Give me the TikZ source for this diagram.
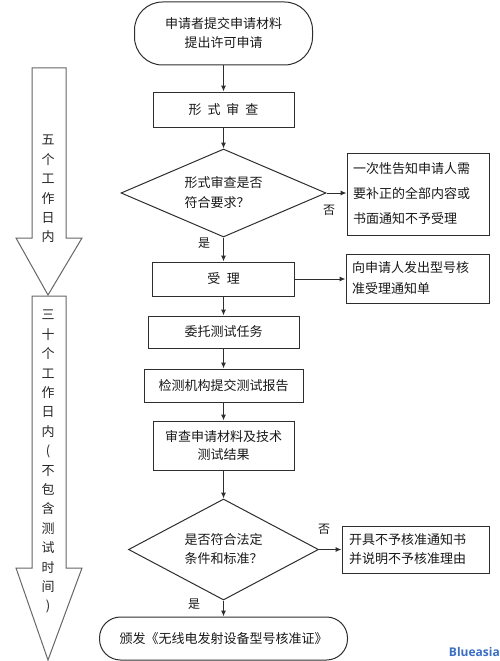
\documentclass[tikz,border=0pt]{standalone}
\usepackage{fontspec}
\setmainfont{Noto Sans CJK SC}
\newfontfamily\wmfont{Open Sans}
\usetikzlibrary{shapes.geometric,arrows.meta}
\definecolor{ln}{HTML}{2E2E2E}
\definecolor{wm}{HTML}{3A6FC4}
\tikzset{
  base/.style={draw=ln, line width=1pt, inner sep=0pt, font=\fontsize{13}{19}\selectfont, text=black!90},
  procbox/.style={base, rectangle, align=center},
  termbox/.style={base, rectangle, align=center},
  decision/.style={base, diamond, align=left, aspect=2.3},
  notebox/.style={base, rectangle, align=left, inner xsep=6pt},
  conn/.style={draw=ln, line width=1pt, -{Latex[length=6pt,width=5pt]}},
  lbl/.style={font=\fontsize{12}{14}\selectfont, text=black!90, inner sep=0pt},
  bigarrow/.style={draw=black!60, line width=1pt, fill=white},
  vtext/.style={align=center, inner sep=0pt, font=\fontsize{13}{19.4}\selectfont, text=black!85}
}
\begin{document}
\begin{tikzpicture}[x=1pt,y=-1pt]
\useasboundingbox (0,0) rectangle (500,661);
\fill[white] (0,0) rectangle (500,661);

% left big arrows
\draw[bigarrow] (32,68) -- (66,68) -- (66,238) -- (82,238) -- (48,295) -- (16,238) -- (32,238) -- cycle;
\draw[bigarrow] (32,296) -- (66,296) -- (66,568) -- (82,568) -- (48,660) -- (16,568) -- (32,568) -- cycle;
\node[vtext, anchor=north] (v1) at (48,135) {五\\个\\工\\作\\日\\内};
\node[vtext, anchor=north] (v2) at (48,310) {三\\十\\个\\工\\作\\日\\内\\(\\不\\包\\含\\测\\试\\时\\间\\)};

% main column
\node[termbox, rounded corners=28pt, minimum width=178pt, minimum height=63pt] (t1) at (223.5,33.5) {申请者提交申请材料\\提出许可申请};
\node[procbox, minimum width=141pt, minimum height=35pt] (f1) at (223.5,109.5) {形\hspace{0.45em}式\hspace{0.45em}审\hspace{0.45em}查};
\node[decision, minimum width=205pt, minimum height=88pt, font=\fontsize{13}{20}\selectfont] (d1) at (223.5,193) {形式审查是否\\符合要求？};
\node[notebox, minimum width=142pt, minimum height=82pt, text width=130pt, font=\fontsize{13}{25}\selectfont] (r1) at (418,194) {一次性告知申请人需\\要补正的全部内容或\\书面通知不予受理};
\node[procbox, minimum width=142pt, minimum height=34pt] (a1) at (223.5,279) {受\hspace{0.5em}理};
\node[notebox, minimum width=143pt, minimum height=49pt, text width=131pt, font=\fontsize{13}{21}\selectfont] (r2) at (417.5,278.5) {向申请人发出型号核\\准受理通知单};
\node[procbox, minimum width=151pt, minimum height=32pt] (b2) at (223.5,332) {委托测试任务};
\node[procbox, minimum width=159pt, minimum height=33pt] (b3) at (223.5,385.5) {检测机构提交测试报告};
\node[procbox, minimum width=141pt, minimum height=49pt, font=\fontsize{13}{18}\selectfont] (b4) at (223.5,445.5) {审查申请材料及技术\\测试结果};
\node[decision, minimum width=190pt, minimum height=101pt] (d2) at (223.5,549.5) {是否符合法定\\条件和标准？};
\node[notebox, minimum width=147pt, minimum height=47pt, text width=133pt] (r3) at (415.5,549.5) {开具不予核准通知书\\并说明不予核准理由};
\node[termbox, rounded corners=21pt, minimum width=248pt, minimum height=43pt] (t2) at (223.5,638.5) {颁发《无线电发射设备型号核准证》};

% connectors
\draw[conn] (t1) -- (f1);
\draw[conn] (f1) -- (d1);
\draw[conn] (d1.east) -- (d1.east -| r1.west);
\draw[conn] (d1) -- (a1);
\draw[conn] (a1.east) -- (a1.east -| r2.west);
\draw[conn] (a1) -- (b2);
\draw[conn] (b2) -- (b3);
\draw[conn] (b3) -- (b4);
\draw[conn] (b4) -- (d2);
\draw[conn] (d2.east) -- (d2.east -| r3.west);
\draw[conn] (d2) -- (t2);

% labels
\node[lbl] (n1) at (329,210) {否};
\node[lbl] (y1) at (204,243) {是};
\node[lbl] (n2) at (324,529) {否};
\node[lbl] (y2) at (194,604) {是};

% watermark
\node[anchor=east, inner sep=0pt, text=wm, font=\wmfont\bfseries\fontsize{12}{14}\selectfont] (wmk) at (500,652) {Blueasia};
\end{tikzpicture}
\end{document}
